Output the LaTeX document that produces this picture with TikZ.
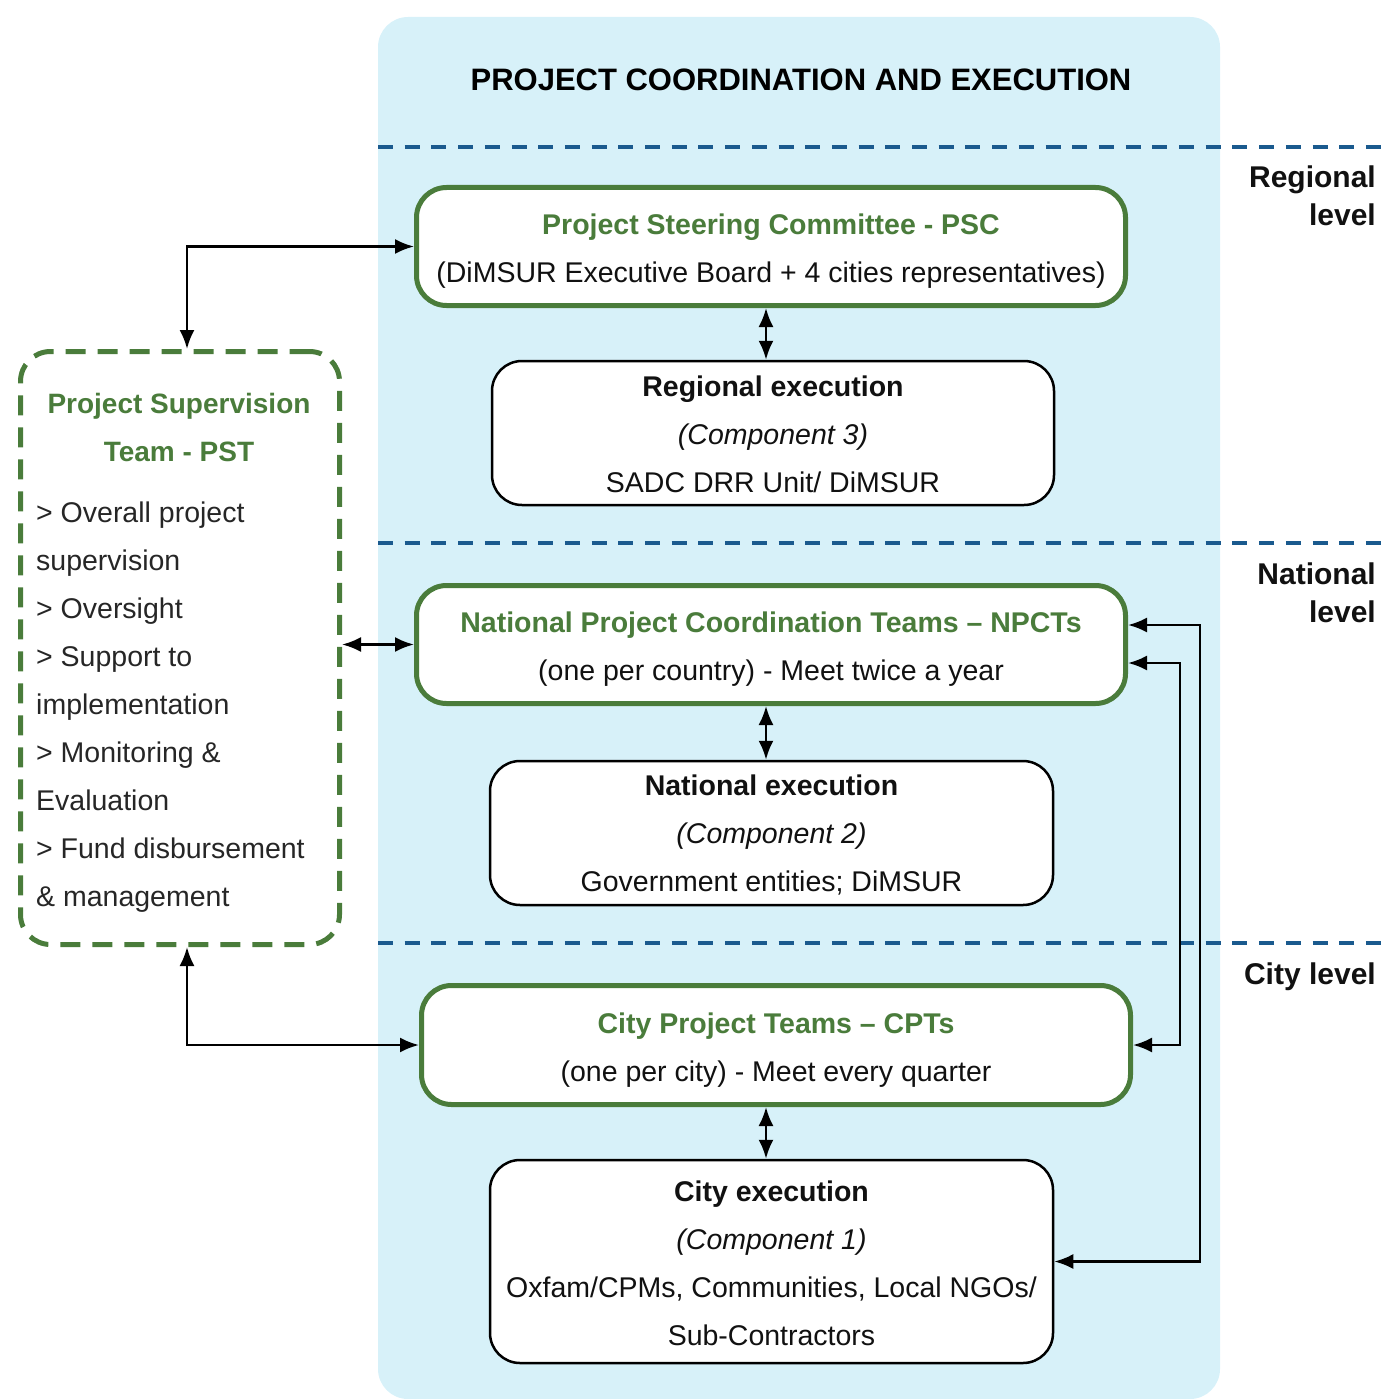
\documentclass[tikz,border=0pt]{standalone}
\usepackage{fontspec}
\setmainfont{Liberation Sans}
\usetikzlibrary{arrows.meta}
\definecolor{bgblue}{HTML}{D7F1F9}
\definecolor{dgreen}{HTML}{4A7C3B}
\definecolor{lineblue}{HTML}{1A5A8E}
\definecolor{txt}{HTML}{111111}
\newcommand\greenstrut{\rule{0pt}{30pt}}
\newcommand\blackstrut{\rule{0pt}{24pt}}
\begin{document}
\begin{tikzpicture}[x=1pt,y=-1pt,
  every node/.style={inner sep=0pt, text=txt},
  boxtext/.style={font=\fontsize{28.5}{48}\selectfont, align=center},
  greenbox/.style={boxtext, draw=dgreen, line width=5pt, rounded corners=30pt, fill=white},
  blackbox/.style={boxtext, draw=black, line width=2.5pt, rounded corners=30pt, fill=white},
  levellabel/.style={font=\fontsize{30}{38}\selectfont\bfseries, align=right, anchor=north east},
  levelline/.style={draw=lineblue, line width=4.5pt, dash pattern=on 15pt off 11.7pt},
  link/.style={draw=black, line width=2.5pt, {Latex[length=19pt,width=15pt]}-{Latex[length=19pt,width=15pt]}},
]
\useasboundingbox (0,0) rectangle (1386,1399);

% background panel
\fill[bgblue, rounded corners=30pt] (378,1399) -- (378,17) -- (1220,17) -- (1220,1399) -- cycle;

\node[font=\fontsize{31}{36}\selectfont\bfseries, text=black] (title) at (801,80) {PROJECT COORDINATION AND EXECUTION};

% level separators
\coordinate (l1a) at (378,147); \coordinate (l1b) at (1384,147);
\coordinate (l2a) at (378,543); \coordinate (l2b) at (1384,543);
\coordinate (l3a) at (378,943); \coordinate (l3b) at (1384,943);
\draw[levelline] (l1a) -- (l1b);
\draw[levelline] (l2a) -- (l2b);
\draw[levelline] (l3a) -- (l3b);

\node[levellabel] (lreg) at (1376,166) {Regional\\level};
\node[levellabel] (lnat) at (1376,563) {National\\level};
\node[levellabel] (lcity) at (1376,963) {City level};

% boxes
\node[greenbox, minimum width=709pt, minimum height=118pt] (psc) at (771,246.5)
  {\greenstrut{\bfseries\color{dgreen}Project Steering Committee - PSC}\\(DiMSUR Executive Board + 4 cities representatives)};
\node[blackbox, minimum width=562pt, minimum height=144pt] (regexec) at (773,433)
  {\blackstrut\bfseries Regional execution\\\itshape (Component 3)\\SADC DRR Unit/ DiMSUR};

\node[greenbox, minimum width=709pt, minimum height=118pt] (npct) at (771,644.5)
  {\greenstrut{\bfseries\color{dgreen}National Project Coordination Teams -- NPCTs}\\(one per country) - Meet twice a year};
\node[blackbox, minimum width=563pt, minimum height=144pt] (natexec) at (771.5,833)
  {\blackstrut\bfseries National execution\\\itshape (Component 2)\\Government entities; DiMSUR};

\node[greenbox, minimum width=709pt, minimum height=119pt] (cpt) at (776,1045)
  {\greenstrut{\bfseries\color{dgreen}City Project Teams -- CPTs}\\(one per city) - Meet every quarter};
\node[blackbox, minimum width=563pt, minimum height=203pt] (cityexec) at (771.5,1261.5)
  {\blackstrut\bfseries City execution\\\itshape (Component 1)\\Oxfam/CPMs, Communities, Local NGOs/\\Sub-Contractors};

% supervision team
\node[draw=dgreen, line width=5pt, dash pattern=on 20pt off 12pt, rounded corners=30pt,
      minimum width=319pt, minimum height=593pt] (pst) at (180,648) {};
\node[font=\fontsize{28}{48}\selectfont\bfseries, text=dgreen, align=center] (psttitle) at (179,427)
  {Project Supervision\\Team - PST};
\node[font=\fontsize{28.5}{48}\selectfont, align=left, anchor=north west, text=black!85] (pstlist) at (36,502)
  {> Overall project\\supervision\\> Oversight\\> Support to\\implementation\\> Monitoring \&\\Evaluation\\> Fund disbursement\\\& management};

% connectors
\draw[link] (psc.west) -| ([xshift=7pt]pst.north);
\draw[link] (pst.east |- npct.west) -- (npct.west);
\draw[link] ([xshift=7pt]pst.south) |- (cpt.west);

\draw[link] ([xshift=-5pt]psc.south) -- ([xshift=-5pt]psc.south |- regexec.north);
\draw[link] ([xshift=-5pt]npct.south) -- ([xshift=-5pt]npct.south |- natexec.north);
\draw[link] ([xshift=-10pt]cpt.south) -- ([xshift=-10pt]cpt.south |- cityexec.north);

\coordinate (cx1) at (1200,1261.5);
\coordinate (cx2) at (1180,1045);
\draw[link] ([yshift=19.5pt]npct.east) -| (cx1) -- (cityexec.east);
\draw[link] ([yshift=-18.5pt]npct.east) -| (cx2) -- (cpt.east);
\end{tikzpicture}
\end{document}
